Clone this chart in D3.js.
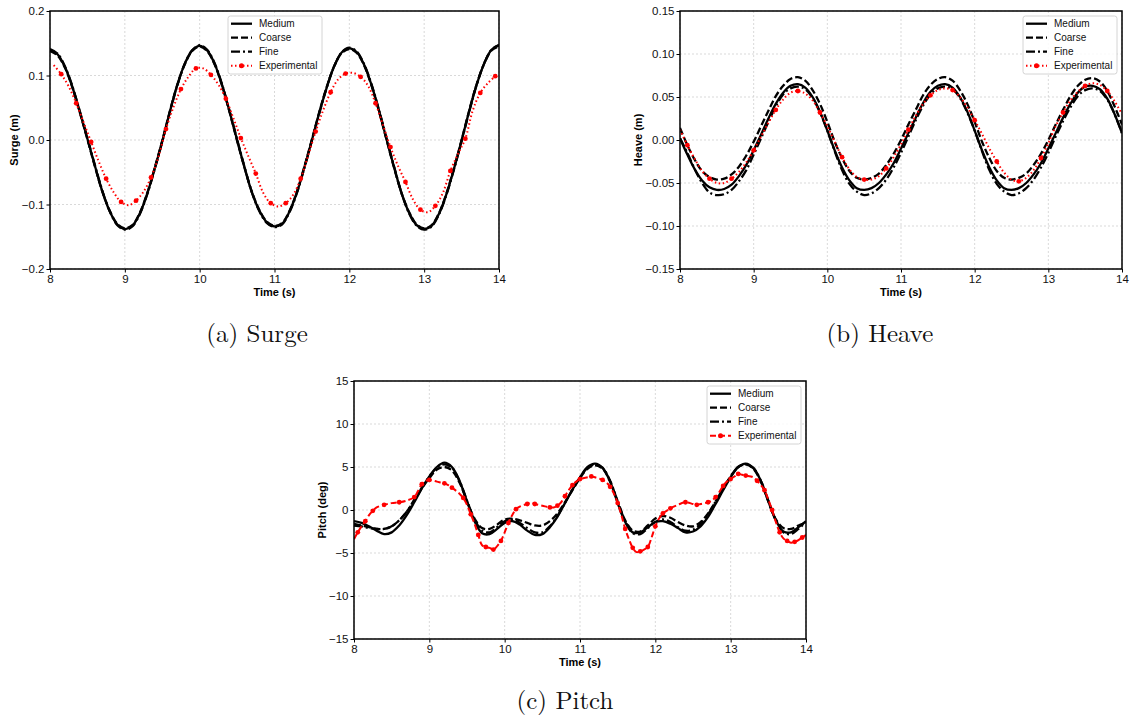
<!DOCTYPE html>
<html>
<head>
<meta charset="utf-8">
<script src="https://cdn.jsdelivr.net/npm/d3@7"></script>
<style>
  body { margin: 0; background: #fff; }
  svg { display: block; }
  .tick text { font-family: "Liberation Sans", Arial, sans-serif; font-size: 11.5px; fill: #111; }
  .tick line { stroke: #000; stroke-width: 1; }
</style>
</head>
<body>
<svg id="chart" width="1133" height="720"></svg>
<script>
"use strict";

// shared simulation time base (s)
var timeSim = [8.0,8.1,8.2,8.3,8.4,8.5,8.6,8.7,8.8,8.9,9.0,9.1,9.2,9.3,9.4,9.5,9.6,9.7,9.8,9.9,
  10.0,10.1,10.2,10.3,10.4,10.5,10.6,10.7,10.8,10.9,11.0,11.1,11.2,11.3,11.4,11.5,11.6,11.7,11.8,11.9,
  12.0,12.1,12.2,12.3,12.4,12.5,12.6,12.7,12.8,12.9,13.0,13.1,13.2,13.3,13.4,13.5,13.6,13.7,13.8,13.9,14.0];

var xTicks = [8, 9, 10, 11, 12, 13, 14];
var seriesNames = ["Medium", "Coarse", "Fine", "Experimental"];

// ---- surge (m)
var surgeMedium = [0.140,0.133,0.113,0.082,0.043,0.002,-0.040,-0.080,-0.111,-0.131,-0.138,-0.133,-0.114,-0.083,-0.044,-0.002,0.043,0.085,0.118,0.139,
  0.146,0.139,0.118,0.085,0.044,0.000,-0.043,-0.082,-0.110,-0.128,-0.134,-0.130,-0.111,-0.081,-0.042,0.000,0.043,0.082,0.115,0.136,
  0.142,0.136,0.116,0.084,0.044,0.000,-0.043,-0.083,-0.113,-0.132,-0.138,-0.133,-0.114,-0.083,-0.044,-0.001,0.044,0.085,0.118,0.140,0.147];
var surgeCoarse = [0.138,0.131,0.112,0.081,0.042,0.001,-0.041,-0.080,-0.110,-0.130,-0.137,-0.132,-0.113,-0.082,-0.043,-0.001,0.044,0.085,0.117,0.138,
  0.145,0.138,0.117,0.084,0.043,-0.001,-0.043,-0.081,-0.109,-0.127,-0.133,-0.129,-0.110,-0.080,-0.041,0.001,0.044,0.083,0.115,0.135,
  0.141,0.135,0.115,0.083,0.043,-0.001,-0.044,-0.083,-0.112,-0.131,-0.137,-0.132,-0.113,-0.082,-0.043,0.000,0.045,0.086,0.118,0.139,0.145];
var surgeFine = [0.141,0.134,0.114,0.083,0.044,0.003,-0.039,-0.079,-0.111,-0.132,-0.139,-0.134,-0.115,-0.084,-0.045,-0.003,0.042,0.084,0.118,0.139,
  0.147,0.140,0.119,0.086,0.045,0.001,-0.042,-0.082,-0.111,-0.129,-0.135,-0.131,-0.112,-0.082,-0.043,-0.001,0.042,0.082,0.115,0.136,
  0.143,0.137,0.117,0.085,0.045,0.001,-0.042,-0.083,-0.114,-0.133,-0.139,-0.134,-0.115,-0.084,-0.045,-0.002,0.043,0.085,0.118,0.140,0.147];
var surgeExpTime = [8.05,8.15,8.25,8.35,8.45,8.55,8.65,8.75,8.85,8.95,9.05,9.15,9.25,9.35,9.45,9.55,9.65,9.75,9.85,9.95,
  10.05,10.15,10.25,10.35,10.45,10.55,10.65,10.75,10.85,10.95,11.05,11.15,11.25,11.35,11.45,11.55,11.65,11.75,11.85,11.95,
  12.05,12.15,12.25,12.35,12.45,12.55,12.65,12.75,12.85,12.95,13.05,13.15,13.25,13.35,13.45,13.55,13.65,13.75,13.85,13.95];
var surgeExp = [0.116,0.102,0.083,0.057,0.027,-0.003,-0.033,-0.060,-0.081,-0.096,-0.101,-0.094,-0.080,-0.058,-0.026,0.017,0.051,0.079,0.098,0.111,
  0.111,0.101,0.086,0.064,0.034,0.003,-0.025,-0.052,-0.082,-0.098,-0.103,-0.098,-0.085,-0.060,-0.024,0.013,0.046,0.074,0.094,0.103,
  0.104,0.098,0.084,0.057,0.023,-0.011,-0.040,-0.065,-0.092,-0.108,-0.112,-0.102,-0.082,-0.048,-0.022,0.002,0.046,0.073,0.088,0.099];
var surgeTicks = [-0.2, -0.1, 0.0, 0.1, 0.2];

// ---- heave (m)
var heaveMedium = [0.002,-0.017,-0.034,-0.047,-0.055,-0.058,-0.057,-0.052,-0.042,-0.029,-0.012,0.006,0.025,0.042,0.055,0.063,0.065,0.061,0.050,0.033,
  0.011,-0.012,-0.032,-0.047,-0.056,-0.058,-0.056,-0.050,-0.040,-0.027,-0.010,0.008,0.026,0.043,0.056,0.063,0.065,0.061,0.050,0.033,
  0.011,-0.012,-0.032,-0.047,-0.056,-0.058,-0.056,-0.050,-0.040,-0.027,-0.010,0.008,0.026,0.042,0.055,0.062,0.063,0.059,0.048,0.030,0.008];
var heaveCoarse = [0.014,-0.006,-0.023,-0.036,-0.043,-0.046,-0.045,-0.040,-0.031,-0.018,-0.002,0.016,0.034,0.051,0.063,0.071,0.073,0.069,0.058,0.042,
  0.021,-0.002,-0.021,-0.036,-0.044,-0.046,-0.044,-0.039,-0.029,-0.016,0.000,0.018,0.035,0.052,0.064,0.071,0.073,0.069,0.058,0.042,
  0.021,-0.002,-0.021,-0.036,-0.044,-0.046,-0.044,-0.039,-0.029,-0.016,0.000,0.018,0.035,0.051,0.063,0.070,0.072,0.068,0.057,0.039,0.018];
var heaveFine = [0.002,-0.015,-0.034,-0.050,-0.061,-0.064,-0.063,-0.058,-0.048,-0.035,-0.017,0.002,0.021,0.039,0.053,0.060,0.062,0.059,0.049,0.032,
  0.011,-0.013,-0.035,-0.051,-0.060,-0.064,-0.062,-0.056,-0.046,-0.032,-0.015,0.004,0.023,0.040,0.053,0.060,0.062,0.059,0.049,0.032,
  0.011,-0.013,-0.035,-0.051,-0.060,-0.064,-0.062,-0.056,-0.046,-0.032,-0.015,0.004,0.022,0.038,0.051,0.058,0.060,0.057,0.047,0.030,0.008];
var heaveExp = [0.012,-0.006,-0.022,-0.036,-0.045,-0.050,-0.050,-0.045,-0.037,-0.026,-0.012,0.004,0.020,0.035,0.047,0.055,0.057,0.054,0.046,0.032,
  0.016,-0.002,-0.020,-0.034,-0.043,-0.046,-0.046,-0.042,-0.033,-0.020,-0.005,0.012,0.028,0.042,0.052,0.058,0.060,0.058,0.050,0.038,
  0.023,0.007,-0.010,-0.025,-0.038,-0.046,-0.048,-0.044,-0.035,-0.021,-0.004,0.016,0.032,0.046,0.056,0.063,0.066,0.064,0.057,0.045,0.030];
var heaveTicks = [-0.15, -0.10, -0.05, 0.00, 0.05, 0.10, 0.15];

// ---- pitch (deg)
var pitchMedium = [-1.3,-1.5,-1.9,-2.4,-2.8,-2.6,-1.8,-0.6,0.9,2.5,3.9,5.0,5.5,5.0,3.4,1.0,-1.3,-2.7,-2.8,-2.2,
  -1.5,-1.3,-1.7,-2.4,-2.9,-2.8,-2.0,-0.8,0.8,2.4,3.8,5.0,5.4,4.9,3.3,0.8,-1.4,-2.6,-2.6,-2.0,
  -1.4,-1.3,-1.6,-2.1,-2.6,-2.5,-1.9,-0.8,0.7,2.3,3.8,5.0,5.4,4.9,3.4,1.0,-1.2,-2.5,-2.6,-2.0,-1.3];
var pitchCoarse = [-1.6,-1.8,-2.0,-2.2,-2.2,-1.9,-1.2,-0.2,1.1,2.5,3.7,4.7,5.0,4.6,3.2,1.0,-1.0,-2.1,-2.2,-1.7,
  -1.1,-1.0,-1.2,-1.5,-1.8,-1.8,-1.3,-0.4,0.9,2.3,3.7,4.8,5.2,4.8,3.3,1.0,-1.2,-2.4,-2.5,-1.8,
  -1.0,-0.7,-0.9,-1.4,-1.8,-1.9,-1.4,-0.4,1.0,2.5,3.9,5.0,5.3,4.8,3.3,1.0,-1.1,-2.1,-2.2,-1.8,-1.5];
var pitchFine = [-1.8,-1.9,-2.1,-2.2,-2.2,-1.9,-1.2,-0.2,1.2,2.6,3.9,4.9,5.3,4.9,3.4,1.1,-1.1,-2.4,-2.6,-2.0,
  -1.3,-1.1,-1.5,-2.1,-2.6,-2.6,-1.9,-0.7,0.8,2.4,3.8,4.9,5.3,4.9,3.4,1.0,-1.3,-2.7,-2.8,-2.1,
  -1.4,-1.1,-1.4,-2.0,-2.4,-2.3,-1.6,-0.5,1.0,2.5,3.9,5.0,5.3,4.9,3.4,1.1,-1.2,-2.6,-2.8,-2.2,-1.4];
var pitchExpTime = [8.00,8.05,8.10,8.15,8.20,8.25,8.30,8.40,8.50,8.60,8.70,8.80,8.85,8.90,8.95,9.00,9.10,9.20,9.25,9.30,
  9.40,9.45,9.50,9.55,9.60,9.65,9.70,9.75,9.80,9.85,9.90,9.95,10.00,10.05,10.10,10.15,10.20,10.30,10.35,10.40,
  10.50,10.60,10.65,10.70,10.75,10.80,10.85,10.90,10.95,11.00,11.10,11.15,11.20,11.30,11.35,11.40,11.45,11.50,11.55,11.60,
  11.65,11.70,11.75,11.80,11.85,11.90,11.95,12.00,12.05,12.10,12.15,12.20,12.30,12.40,12.50,12.55,12.60,12.70,12.75,12.80,
  12.85,12.90,12.95,13.00,13.05,13.10,13.15,13.20,13.30,13.35,13.40,13.45,13.50,13.55,13.60,13.65,13.70,13.75,13.80,13.85,
  13.90,13.95,14.00];
var pitchExp = [-3.4,-2.6,-1.9,-1.3,-0.6,-0.1,0.3,0.6,0.8,0.9,1.1,1.5,2.2,3.0,3.4,3.5,3.3,3.1,2.9,2.6,
  1.9,1.4,0.6,-0.5,-1.6,-2.9,-4.1,-4.3,-4.4,-4.6,-4.2,-3.6,-2.6,-1.5,-0.6,0.1,0.4,0.7,0.8,0.7,
  0.5,0.3,0.3,0.5,0.9,1.6,2.3,2.9,3.3,3.6,3.8,3.9,3.8,3.5,3.2,2.7,1.9,0.8,-0.6,-2.2,
  -3.4,-4.4,-4.9,-4.8,-4.6,-4.3,-3.2,-1.9,-1.0,-0.4,-0.1,0.2,0.6,0.9,0.7,0.6,0.7,0.9,1.1,1.5,
  2.1,2.8,3.3,3.6,3.9,4.2,4.1,4.0,3.8,3.4,2.9,2.3,1.2,0.0,-1.4,-2.6,-3.3,-3.6,-3.8,-3.7,
  -3.5,-3.2,-2.9];
var pitchTicks = [-15, -10, -5, 0, 5, 10, 15];

var fontSans = '"Liberation Sans", Arial, sans-serif';
var fontSerif = '"Latin Modern Roman", "CMU Serif", "Liberation Serif", serif';

var panels = [
  {
    key: "a", left: 50, top: 11, right: 499, bottom: 269,
    yDomain: [-0.2, 0.2], yTicks: surgeTicks, yFormat: ".1f", ylabel: "Surge (m)", ylabelOffset: 36,
    medium: surgeMedium, coarse: surgeCoarse, fine: surgeFine,
    expTime: surgeExpTime, exp: surgeExp, expDash: "1.5,2.5", expWidth: 2, markEvery: 2,
    legendX: 228, legendY: 16, caption: "(a) Surge", captionX: 257, captionY: 342
  },
  {
    key: "b", left: 680, top: 11, right: 1122, bottom: 269,
    yDomain: [-0.15, 0.15], yTicks: heaveTicks, yFormat: ".2f", ylabel: "Heave (m)", ylabelOffset: 42,
    medium: heaveMedium, coarse: heaveCoarse, fine: heaveFine,
    expTime: timeSim, exp: heaveExp, expDash: "1.5,2.5", expWidth: 2, markEvery: 3,
    legendX: 1023, legendY: 16, caption: "(b) Heave", captionX: 880, captionY: 342
  },
  {
    key: "c", left: 354, top: 381, right: 806, bottom: 639,
    yDomain: [-15, 15], yTicks: pitchTicks, yFormat: "d", ylabel: "Pitch (deg)", ylabelOffset: 32,
    medium: pitchMedium, coarse: pitchCoarse, fine: pitchFine,
    expTime: pitchExpTime, exp: pitchExp, expDash: "6,3", expWidth: 2, markEvery: 2,
    legendX: 707, legendY: 386, caption: "(c) Pitch", captionX: 565, captionY: 709
  }
];

var svg = d3.select("#chart");

var styles = {
  Medium: {dash: null, width: 2.3},
  Coarse: {dash: "7,3", width: 2.3},
  Fine: {dash: "9,3,2,3", width: 2.3}
};

panels.forEach(drawPanel);

function drawPanel(p) {
  var x = d3.scaleLinear().domain([8, 14]).range([p.left, p.right]);
  var y = d3.scaleLinear().domain(p.yDomain).range([p.bottom, p.top]);
  var g = svg.append("g").attr("class", "panel panel-" + p.key);

  g.append("clipPath").attr("id", "clip-" + p.key)
    .append("rect")
    .attr("x", p.left).attr("y", p.top)
    .attr("width", p.right - p.left).attr("height", p.bottom - p.top);

  // grid
  var grid = g.append("g").attr("class", "grid")
    .style("stroke", "#cfcfcf").style("stroke-width", 0.8).style("stroke-dasharray", "2,2");
  grid.selectAll(".gx").data(xTicks).enter().append("line")
    .attr("x1", function(d) { return x(d); }).attr("x2", function(d) { return x(d); })
    .attr("y1", p.top).attr("y2", p.bottom);
  grid.selectAll(".gy").data(p.yTicks).enter().append("line")
    .attr("y1", function(d) { return y(d); }).attr("y2", function(d) { return y(d); })
    .attr("x1", p.left).attr("x2", p.right);

  // axes
  var xAxis = d3.axisBottom(x).tickValues(xTicks).tickFormat(d3.format("d"))
    .tickSizeInner(3.5).tickSizeOuter(0).tickPadding(2);
  var yAxis = d3.axisLeft(y).tickValues(p.yTicks).tickFormat(d3.format(p.yFormat))
    .tickSizeInner(3.5).tickSizeOuter(0).tickPadding(2);
  g.append("g").attr("transform", "translate(0," + p.bottom + ")").call(xAxis)
    .call(function(s) { s.select(".domain").remove(); });
  g.append("g").attr("transform", "translate(" + p.left + ",0)").call(yAxis)
    .call(function(s) { s.select(".domain").remove(); });

  // curves
  var lines = g.append("g").attr("clip-path", "url(#clip-" + p.key + ")");
  var simLine = d3.line()
    .x(function(d, i) { return x(timeSim[i]); })
    .y(function(d) { return y(d); })
    .curve(d3.curveCatmullRom.alpha(0.5));

  [["Medium", p.medium], ["Coarse", p.coarse], ["Fine", p.fine]].forEach(function(s) {
    lines.append("path")
      .attr("d", simLine(s[1]))
      .attr("fill", "none")
      .attr("stroke", "#000")
      .attr("stroke-width", styles[s[0]].width)
      .attr("stroke-dasharray", styles[s[0]].dash);
  });

  var expLine = d3.line()
    .x(function(d, i) { return x(p.expTime[i]); })
    .y(function(d) { return y(d); })
    .curve(d3.curveCatmullRom.alpha(0.5));
  lines.append("path")
    .attr("d", expLine(p.exp))
    .attr("fill", "none")
    .attr("stroke", "#f00")
    .attr("stroke-width", p.expWidth)
    .attr("stroke-dasharray", p.expDash);
  var marks = p.exp.map(function(d, i) { return [p.expTime[i], d]; })
    .filter(function(d, i) { return i % p.markEvery === 1; });
  lines.selectAll(".mk")
    .data(marks)
    .enter().append("circle")
    .attr("cx", function(d) { return x(d[0]); })
    .attr("cy", function(d) { return y(d[1]); })
    .attr("r", 2.4)
    .attr("fill", "#f00");

  // frame
  g.append("rect")
    .attr("x", p.left).attr("y", p.top)
    .attr("width", p.right - p.left).attr("height", p.bottom - p.top)
    .attr("fill", "none").attr("stroke", "#000").attr("stroke-width", 1.5);

  // axis labels
  g.append("text")
    .attr("x", (p.left + p.right) / 2).attr("y", p.bottom + 27)
    .attr("text-anchor", "middle")
    .style("font-family", fontSans).style("font-size", "11px").style("font-weight", "bold")
    .text("Time (s)");
  g.append("text")
    .attr("transform", "translate(" + (p.left - p.ylabelOffset + 4) + "," + ((p.top + p.bottom) / 2) + ") rotate(-90)")
    .attr("text-anchor", "middle")
    .style("font-family", fontSans).style("font-size", "11px").style("font-weight", "bold")
    .text(p.ylabel);

  // legend
  var lg = g.append("g").attr("transform", "translate(" + p.legendX + "," + p.legendY + ")");
  lg.append("rect")
    .attr("width", 94).attr("height", 58).attr("rx", 2.5)
    .attr("fill", "#fff").attr("fill-opacity", 0.85)
    .attr("stroke", "#d4d4d4").attr("stroke-width", 1);
  seriesNames.forEach(function(name, i) {
    var ry = 7.7 + i * 14;
    var ln = lg.append("line")
      .attr("x1", 3).attr("x2", 24).attr("y1", ry).attr("y2", ry)
      .attr("fill", "none");
    if (name === "Experimental") {
      ln.attr("stroke", "#f00").attr("stroke-width", p.expWidth).attr("stroke-dasharray", p.expDash);
      lg.append("circle").attr("cx", 13.5).attr("cy", ry).attr("r", 2.5).attr("fill", "#f00");
    } else {
      ln.attr("stroke", "#000").attr("stroke-width", styles[name].width)
        .attr("stroke-dasharray", styles[name].dash);
    }
    lg.append("text")
      .attr("x", 31).attr("y", ry + 3.5)
      .style("font-family", fontSans).style("font-size", "10px").style("fill", "#111")
      .text(name);
  });

  // caption
  svg.append("text")
    .attr("x", p.captionX).attr("y", p.captionY)
    .attr("text-anchor", "middle")
    .style("font-family", fontSerif).style("font-size", "25px").style("fill", "#111")
    .text(p.caption);
}
</script>
</body>
</html>
